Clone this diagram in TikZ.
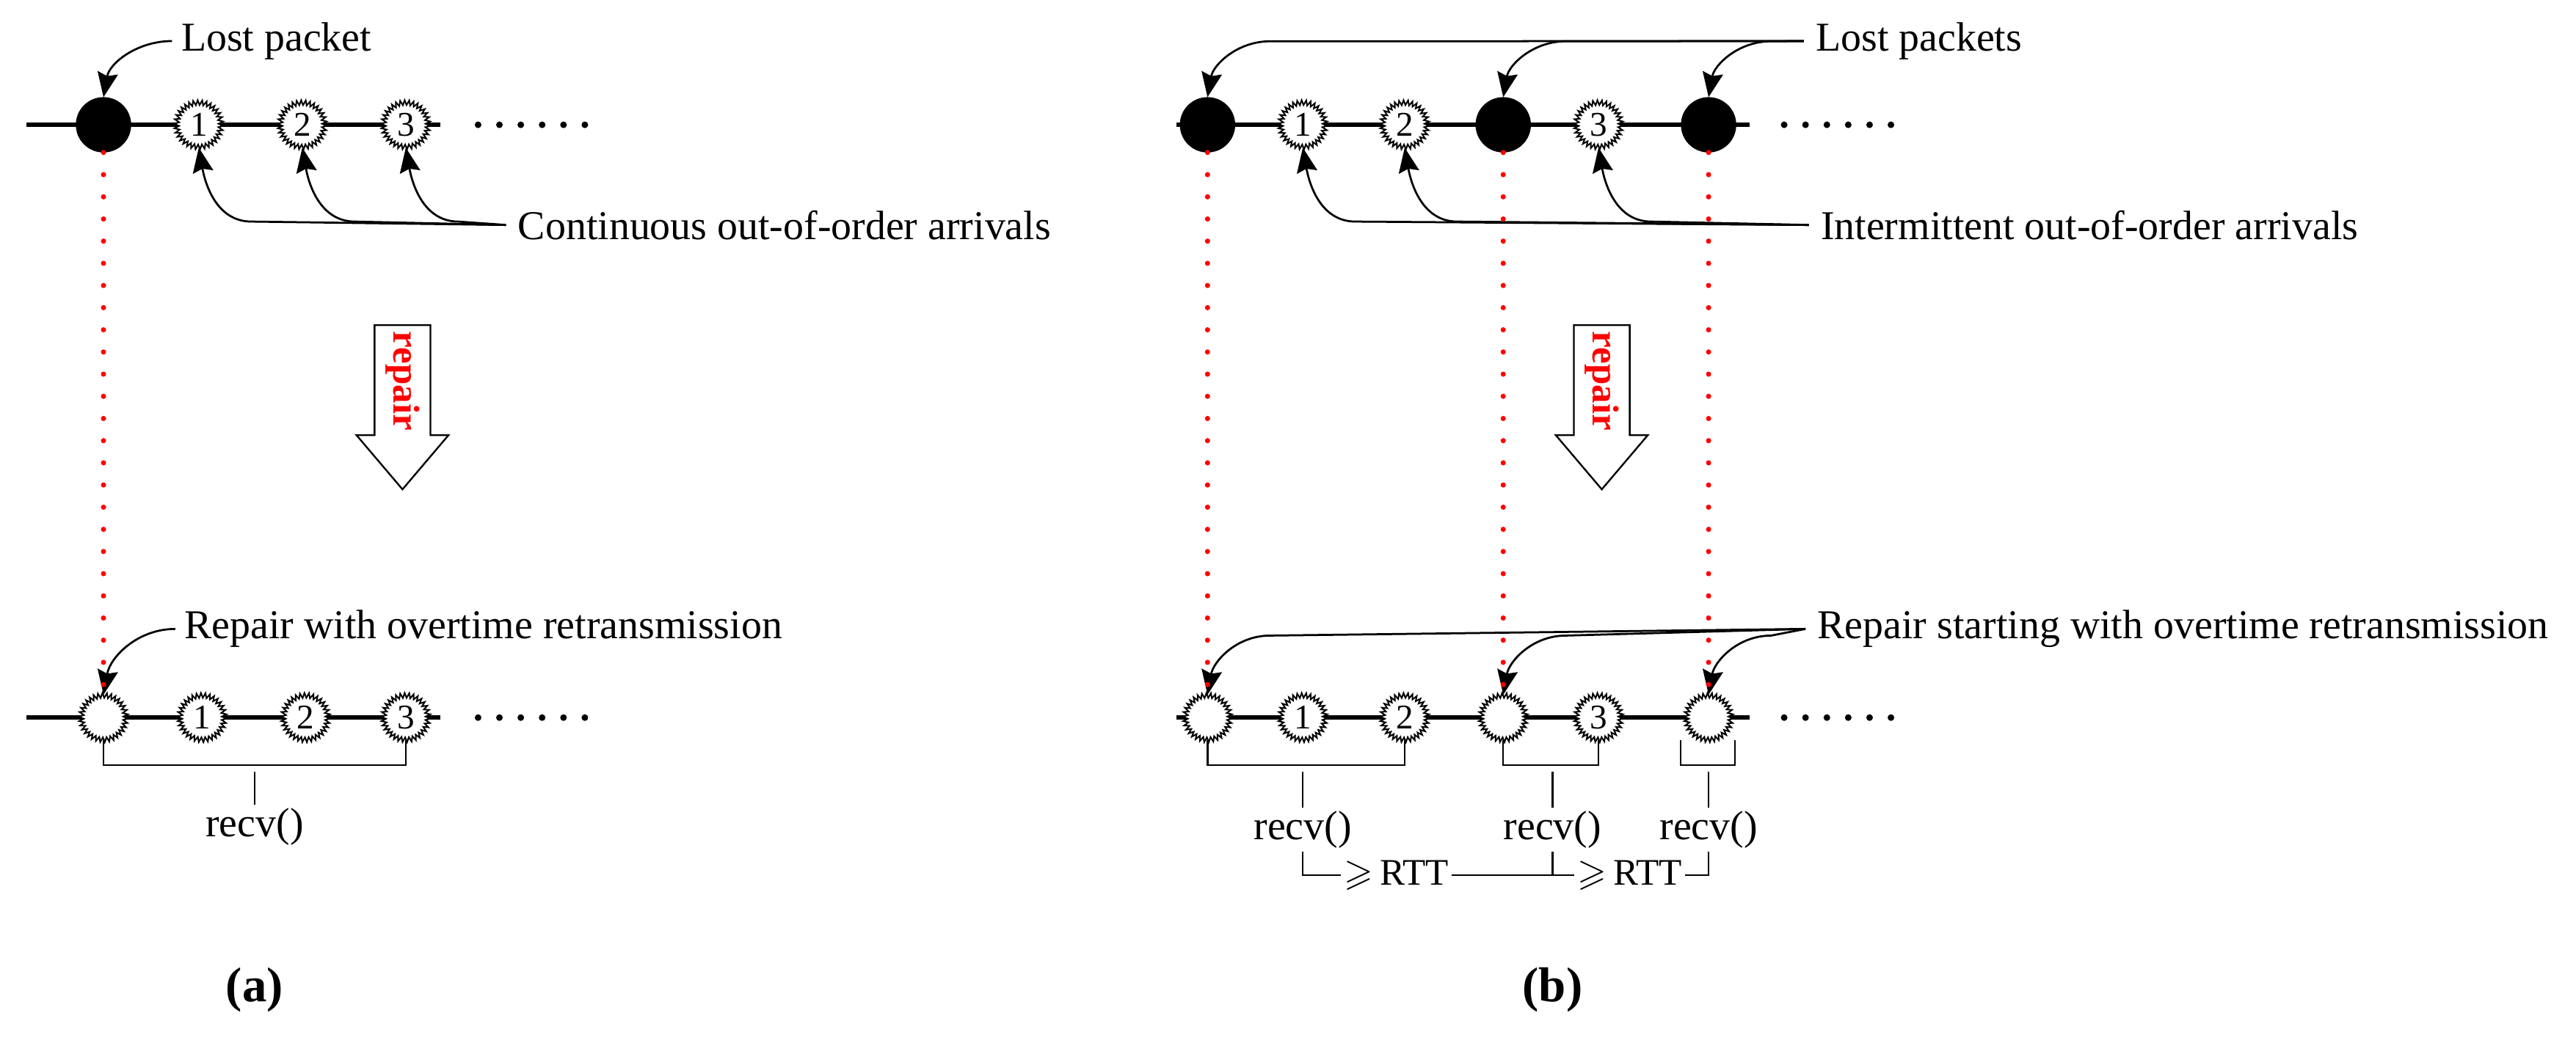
\documentclass[tikz,border=0pt]{standalone}
\usepackage{amssymb}
\usepackage{fontspec}
\setmainfont{Liberation Serif}
\usetikzlibrary{positioning, calc, decorations.pathmorphing, arrows.meta}
\tikzstyle{lost} = [circle, fill = black, draw = black, minimum size = 6.6mm, inner sep = 0pt]
\tikzstyle{zig} = [circle, draw = black, line width = 0.5pt, minimum size = 5.4mm, inner sep = 0pt, decorate, decoration = {zigzag, segment length = 0.5mm, amplitude = 0.3mm}, font = \fontsize{12}{13}\selectfont]
\tikzstyle{wire} = [line width = 1.6pt]
\tikzstyle{arrow} = [-{Stealth[length = 3mm, width = 2.5mm, inset = 0.4mm]}, line width = 0.7pt]
\tikzstyle{reddot} = [red, line width = 1.8pt, line cap = round, dash pattern = on 0pt off 2.7mm]
\tikzstyle{ellips} = [black, line width = 2.3pt, line cap = round, dash pattern = on 0pt off 2.6mm]
\tikzstyle{bracket} = [line width = 0.6pt]
\tikzstyle{block} = [draw = black, line width = 0.6pt, fill = white]
\tikzstyle{every node} = [font = \fontsize{14.2}{16}\selectfont]

\begin{document}
\begin{tikzpicture}[x = 0.2mm, y = -0.2mm]
    \useasboundingbox (0,0) rectangle (1568,632);
    %(a) top
    \draw [wire] (16,76) -- (268,76);
    \node (ta0) [lost] at (63,76) {};
    \node (ta1) [zig, fill = white] at (121,76) {1};
    \node (ta2) [zig, fill = white] at (184,76) {2};
    \node (ta3) [zig, fill = white] at (247,76) {3};
    \draw [ellips] (291,76) -- (357,76);
    \node (losta) [anchor = west, inner sep = 0pt] at (110,25) {Lost packet};
    \node (conta) [anchor = west, inner sep = 0pt] at (315,137) {Continuous out-of-order arrivals};
    \draw [arrow] ([xshift = -3pt]losta.west) to[out = 180, in = 80] (ta0.north);
    \foreach \i in {1,2,3}
        \draw [arrow] ([xshift = -4pt]conta.west) -- ($(ta\i.south)+(32,45)$) to[out = 180, in = -80] (ta\i.south);

    %(a) repair
    \coordinate (rpa) at (245,198);
    \draw [block, shift = {(rpa)}] (-17,0) -- (17,0) -- (17,67) -- (28,67) -- (0,100) -- (-28,67) -- (-17,67) -- cycle;
    \node [rotate = -90, red, font = \fontsize{13}{14}\bfseries] at ($(rpa)+(0,34)$) {repair};

    %(a) bottom
    \draw [wire] (16,437) -- (268,437);
    \node (ra0) [zig, fill = white] at (63,437) {};
    \node (ra1) [zig, fill = white] at (123,437) {1};
    \node (ra2) [zig, fill = white] at (186,437) {2};
    \node (ra3) [zig, fill = white] at (247,437) {3};
    \draw [ellips] (291,437) -- (368,437);
    \node (repa) [anchor = west, inner sep = 0pt] at (112,383) {Repair with overtime retransmission};
    \draw [arrow] ([xshift = -3pt]repa.west) to[out = 180, in = 80] (ra0.north);
    \draw [reddot] (ta0.south) -- (ra0.north);
    \draw [bracket] (ra0.south) -- ++(0,15) -| (ra3.south);
    \node (recva) [anchor = north, inner sep = 1pt] at (155,490) {recv()};
    \draw [bracket] (recva.north) -- ++(0,-20);
    \node (laba) [font = \fontsize{17}{19}\bfseries] at (155,603) {(a)};

    %(b) top
    \draw [wire] (716,76) -- (1065,76);
    \node (tb0) [lost] at (735,76) {};
    \node (tb1) [zig, fill = white] at (793,76) {1};
    \node (tb2) [zig, fill = white] at (855,76) {2};
    \node (tb3) [lost] at (915,76) {};
    \node (tb4) [zig, fill = white] at (973,76) {3};
    \node (tb5) [lost] at (1040,76) {};
    \draw [ellips] (1086,76) -- (1152,76);
    \node (lostb) [anchor = west, inner sep = 0pt] at (1105,25) {Lost packets};
    \node (contb) [anchor = west, inner sep = 0pt] at (1108,137) {Intermittent out-of-order arrivals};
    \foreach \i in {0,3,5}
        \draw [arrow] ([xshift = -4pt]lostb.west) -- ($(tb\i.north)+(38,-34)$) to[out = 180, in = 80] (tb\i.north);
    \foreach \i in {1,2,4}
        \draw [arrow] ([xshift = -4pt]contb.west) -- ($(tb\i.south)+(32,45)$) to[out = 180, in = -80] (tb\i.south);

    %(b) repair
    \coordinate (rpb) at (975,198);
    \draw [block, shift = {(rpb)}] (-17,0) -- (17,0) -- (17,67) -- (28,67) -- (0,100) -- (-28,67) -- (-17,67) -- cycle;
    \node [rotate = -90, red, font = \fontsize{13}{14}\bfseries] at ($(rpb)+(0,34)$) {repair};

    %(b) bottom
    \draw [wire] (716,437) -- (1065,437);
    \node (rb0) [zig, fill = white] at (735,437) {};
    \node (rb1) [zig, fill = white] at (793,437) {1};
    \node (rb2) [zig, fill = white] at (855,437) {2};
    \node (rb3) [zig, fill = white] at (915,437) {};
    \node (rb4) [zig, fill = white] at (973,437) {3};
    \node (rb5) [zig, fill = white] at (1040,437) {};
    \draw [ellips] (1086,437) -- (1152,437);
    \node (repb) [anchor = west, inner sep = 0pt] at (1106,383) {Repair starting with overtime retransmission};
    \foreach \i in {0,3,5}
        \draw [arrow] ([xshift = -4pt]repb.west) -- ($(rb\i.north)+(38,-36)$) to[out = 180, in = 80] (rb\i.north);
    \foreach \i in {0,3,5}
        \draw [reddot] (tb\i.south) -- (rb\i.north);
    \draw [bracket] (rb0.south) -- ++(0,15) -| (rb2.south);
    \draw [bracket] (rb3.south) -- ++(0,15) -| (rb4.south);
    \draw [bracket] ($(rb5.south)+(-17,0)$) -- ++(0,15) -| ($(rb5.south)+(16,0)$);
    \node (recvb1) [anchor = north, inner sep = 1pt] at (793,492) {recv()};
    \node (recvb2) [anchor = north, inner sep = 1pt] at (945,492) {recv()};
    \node (recvb3) [anchor = north, inner sep = 1pt] at (1040,492) {recv()};
    \foreach \i in {1,2,3}
        \draw [bracket] (recvb\i.north) -- ++(0,-22);
    \node (rtt1) [inner sep = 1pt, font = \fontsize{13}{15}\selectfont] at (850,533) {$\geqslant$\,RTT};
    \node (rtt2) [inner sep = 1pt, font = \fontsize{13}{15}\selectfont] at (992,533) {$\geqslant$\,RTT};
    \draw [bracket] (recvb1.south) |- (rtt1.west);
    \draw [bracket] (rtt1.east) -- (rtt2.west);
    \draw [bracket] (recvb2.south) -- (recvb2.south |- rtt1.east);
    \draw [bracket] (rtt2.east) -| (recvb3.south);
    \node (labb) [font = \fontsize{17}{19}\bfseries] at (945,603) {(b)};
\end{tikzpicture}
\end{document}
